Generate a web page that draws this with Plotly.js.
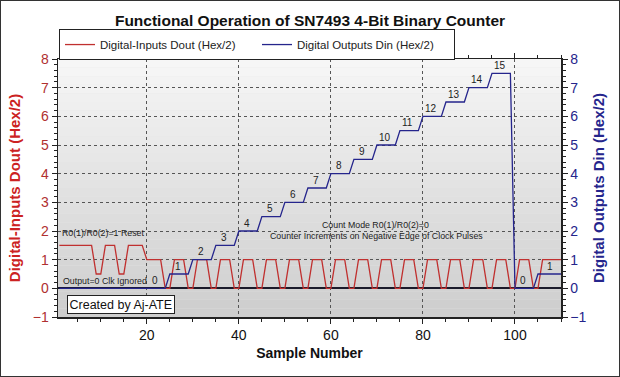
<!DOCTYPE html>
<html><head><meta charset="utf-8">
<script src="https://cdn.plot.ly/plotly-3.0.1.min.js"></script>
<style>
html,body{margin:0;padding:0;background:#fff}
#wrap{position:relative;width:620px;height:377px}
#chart{width:620px;height:377px}
#frame{position:absolute;left:0;top:0;width:620px;height:377px;box-sizing:border-box;border:1px solid #333;pointer-events:none}
</style>
</head><body>
<div id="wrap"><div id="chart"></div><div id="frame"></div></div>
<script>
// Digital-Inputs Dout (Hex/2): sample number / value vertices
const doutX = [1,8,9,10,11,13,14,15,16,19,20,23,24,25,26,28,29,30,31,33,34,35,36,38,39,40,41,43,44,45,46,48,49,50,51,53,54,55,56,58,59,60,61,63,64,65,66,68,69,70,71,73,74,75,76,78,79,80,81,83,84,85,86,88,89,90,91,93,94,95,96,98,99,100,101,103,104,105,106,110];
const doutY = [1.5,1.5,0.5,0.5,1.5,1.5,0.5,0.5,1.5,1.5,1,1,0,0,1,1,0,0,1,1,0,0,1,1,0,0,1,1,0,0,1,1,0,0,1,1,0,0,1,1,0,0,1,1,0,0,1,1,0,0,1,1,0,0,1,1,0,0,1,1,0,0,1,1,0,0,1,1,0,0,1,1,0,0,1,1,0,0,1,1];
// Digital Outputs Din (Hex/2)
const dinX = [1,24,25,29,30,34,35,39,40,44,45,49,50,54,55,59,60,64,65,69,70,74,75,79,80,84,85,89,90,94,95,99,100,104,105,110];
const dinY = [0,0,0.5,0.5,1,1,1.5,1.5,2,2,2.5,2.5,3,3,3.5,3.5,4,4,4.5,4.5,5,5,5.5,5.5,6,6,6.5,6.5,7,7,7.5,7.5,0,0,0.5,0.5];
// Counter state labels for each output step
const countLabels = ['0','1','2','3','4','5','6','7','8','9','10','11','12','13','14','15','0','1'];
const xTicks = [20,40,60,80,100];
const yTicks = [-1,0,1,2,3,4,5,6,7,8];

const FONT = 'Arial, "Liberation Sans", sans-serif';
const RED = '#c0302f', BLUE = '#25258c';

const traces = [
  {x: doutX, y: doutY, type:'scatter', mode:'lines', name:'Digital-Inputs Dout (Hex/2)',
   line:{color:RED, width:1.3}, yaxis:'y'},
  {x: dinX, y: dinY, type:'scatter', mode:'lines', name:'Digital Outputs Din (Hex/2)',
   line:{color:BLUE, width:1.3}, yaxis:'y2'}
];

// step labels from flat segments of Din
const annotations = [];
let k = 0;
for (let i = 0; i < dinX.length - 1; i++) {
  if (dinY[i] === dinY[i+1] && k < countLabels.length) {
    annotations.push({x: dinX[i+1] - 2.3, y: dinY[i] + 0.27, xref:'x', yref:'y', text: countLabels[k],
      showarrow:false, font:{family:FONT, size:10, color:'#222'}});
    k++;
  }
}
const note = (t, x, y, xa) => ({x, y, xref:'x', yref:'y', text:t, showarrow:false, xanchor:xa||'center',
  font:{family:FONT, size:8.8, color:'#222'}});
annotations.push(note('R0(1)/R0(2)=1 Reset', 1.1, 1.92, 'left'));
annotations.push(note('Output=0 Clk Ignored', 1.4, 0.26, 'left'));
annotations.push(note('Count Mode R0(1)/R0(2)=0', 69.6, 2.21));
annotations.push(note('Counter Increments on Negative Edge of Clock Pulses', 69.8, 1.82));
annotations.push({x:14.3, y:-0.575, xref:'x', yref:'y', text:'Created by Aj-ATE', showarrow:false,
  bgcolor:'#fff', bordercolor:'#222', borderwidth:1, borderpad:1.5,
  font:{family:FONT, size:12.5, color:'#111'}});

// plot area gradient
const shapes = [];
const N = 30;
for (let i = 0; i < N; i++) {
  const t = i / (N - 1);
  const c = Math.round(246 - t * 40);
  shapes.push({type:'rect', xref:'paper', yref:'paper', x0:0, x1:1, y0:1 - (i+1)/N, y1:1 - i/N,
    fillcolor:`rgb(${c},${c},${c})`, line:{width:0}, layer:'below'});
}

const axCommon = {showline:true, linecolor:'#222', linewidth:1.5, gridcolor:'#555', griddash:'dot', gridwidth:1,
  ticks:'outside', ticklen:5, tickcolor:'#222', zeroline:false};

const layout = {
  width:620, height:377,
  margin:{l:58, r:59, t:59, b:60},
  paper_bgcolor:'#fff', plot_bgcolor:'#e6e6e6',
  font:{family:FONT},
  title:{text:'Functional Operation of SN7493 4-Bit Binary Counter', x:0.5, xanchor:'center', y:0.945, yanchor:'middle',
    font:{family:FONT, size:15.5, color:'#111', weight:'bold'}},
  showlegend:true,
  legend:{orientation:'h', x:0.002, xanchor:'left', y:1.056, yanchor:'middle', bgcolor:'#fff', bordercolor:'#222', borderwidth:1,
    font:{family:FONT, size:11.5, color:'#222'}, entrywidth:152, entrywidthmode:'pixels', itemwidth:30},
  xaxis: Object.assign({}, axCommon, {range:[0.7,110], tickvals:xTicks, mirror:'ticks', showgrid:true,
    tickfont:{family:FONT, size:14, color:'#111'},
    minor:{dtick:5, tick0:0, ticks:'outside', ticklen:3, tickcolor:'#222', showgrid:false},
    title:{text:'Sample Number', standoff:6, font:{family:FONT, size:14, color:'#111', weight:'bold'}}}),
  yaxis: Object.assign({}, axCommon, {range:[-1,8], tickvals:yTicks, mirror:true, showgrid:true,
    zeroline:true, zerolinecolor:'#1a1a2a', zerolinewidth:2,
    tickfont:{family:FONT, size:14, color:'#b03030'},
    minor:{dtick:0.2, tick0:0, ticks:'outside', ticklen:3, tickcolor:'#222', showgrid:false},
    title:{text:'Digital-Inputs Dout (Hex/2)', standoff:8, font:{family:FONT, size:15, color:'#cc2222', weight:'bold'}}}),
  yaxis2: Object.assign({}, axCommon, {range:[-1,8], tickvals:yTicks, overlaying:'y', side:'right', showgrid:false,
    tickfont:{family:FONT, size:14, color:'#25258c'},
    minor:{dtick:0.2, tick0:0, ticks:'outside', ticklen:3, tickcolor:'#222', showgrid:false},
    title:{text:'Digital Outputs Din (Hex/2)', standoff:8, font:{family:FONT, size:15, color:'#25258c', weight:'bold'}}}),
  annotations, shapes
};

Plotly.newPlot('chart', traces, layout, {displayModeBar:false, staticPlot:true});
</script>
</body></html>
